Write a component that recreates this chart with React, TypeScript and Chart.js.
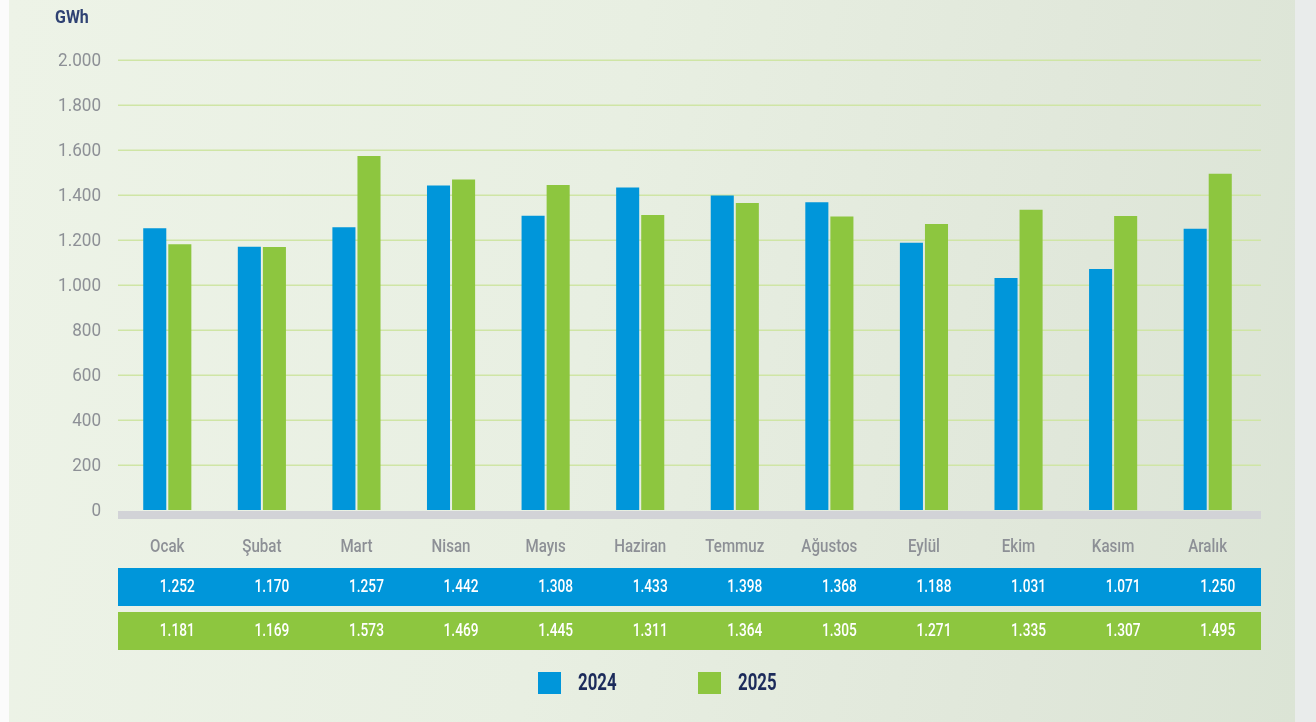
import React, { useEffect, useRef } from "react";
import { Chart, registerables } from "chart.js";

Chart.register(...registerables);

const months = ["Ocak", "Şubat", "Mart", "Nisan", "Mayıs", "Haziran", "Temmuz", "Ağustos", "Eylül", "Ekim", "Kasım", "Aralık"];
const series2024 = [1252, 1170, 1257, 1442, 1308, 1433, 1398, 1368, 1188, 1031, 1071, 1250];
const series2025 = [1181, 1169, 1573, 1469, 1445, 1311, 1364, 1305, 1271, 1335, 1307, 1495];
const seriesLabels = ["2024", "2025"];
const yMax = 2000;
const yStep = 200;
const unitLabel = "GWh";

const BLUE = "#0096da";
const GREEN = "#8dc63f";
const FONT = "Roboto, 'Noto Sans', sans-serif";

const fmt = (v: number) => {
  const s = Math.round(v).toString();
  return s.length > 3 ? s.slice(0, s.length - 3) + "." + s.slice(-3) : s;
};

// draws text with a horizontal squeeze to imitate a condensed face
function squeezed(ctx: any, text: string, x: number, y: number, align: "left" | "center" | "right", sx: number) {
  ctx.save();
  ctx.translate(x, y);
  ctx.scale(sx, 1);
  ctx.textAlign = align;
  ctx.textBaseline = "middle";
  ctx.fillText(text, 0, 0);
  ctx.restore();
}

const extrasPlugin = {
  id: "extras",
  beforeDatasetsDraw(chart: any) {
    const { ctx, chartArea, scales } = chart;
    const y = scales.y;
    ctx.save();
    ctx.strokeStyle = "#cfe5a5";
    ctx.lineWidth = 1.6;
    for (let v = yStep; v <= yMax; v += yStep) {
      const py = Math.round(y.getPixelForValue(v)) + 0.25;
      ctx.beginPath();
      ctx.moveTo(chartArea.left - 2, py);
      ctx.lineTo(chartArea.right + 6, py);
      ctx.stroke();
    }
    ctx.restore();
  },
  afterDatasetsDraw(chart: any) {
    const { ctx, chartArea, scales } = chart;
    const x = scales.x;
    const y = scales.y;
    const y0 = y.getPixelForValue(0);
    const left = chartArea.left - 2;
    const width = chartArea.right + 6 - left;
    ctx.save();
    // baseline band
    ctx.fillStyle = "#d2d3d7";
    ctx.fillRect(left, y0 + 1, width, 8);

    // y tick labels
    ctx.fillStyle = "#8d9096";
    ctx.font = `400 19px ${FONT}`;
    for (let v = 0; v <= yMax; v += yStep) {
      squeezed(ctx, fmt(v), chartArea.left - 19, y.getPixelForValue(v) + 1, "right", 0.9);
    }
    // x category labels
    ctx.font = `500 18px ${FONT}`;
    months.forEach((m, i) => {
      squeezed(ctx, m, x.getPixelForValue(i), y0 + 37, "center", 0.84);
    });

    // table rows
    const rows = [
      { vals: series2024, color: BLUE, top: y0 + 58 },
      { vals: series2025, color: GREEN, top: y0 + 102 },
    ];
    rows.forEach((r) => {
      ctx.fillStyle = r.color;
      ctx.fillRect(left, r.top, width, 38);
      ctx.fillStyle = "#ffffff";
      ctx.font = `500 18px ${FONT}`;
      r.vals.forEach((v, i) => {
        squeezed(ctx, fmt(v), x.getPixelForValue(i) + 10, r.top + 19.5, "center", 0.76);
      });
    });

    // unit label
    ctx.font = `bold 19px ${FONT}`;
    ctx.fillStyle = "#2f4273";
    squeezed(ctx, unitLabel, 55, 18, "left", 0.84);

    // legend
    const legendY = y0 + 173;
    const items = [
      { label: seriesLabels[0], color: BLUE, x: left + 420 },
      { label: seriesLabels[1], color: GREEN, x: left + 580 },
    ];
    ctx.font = `bold 24px ${FONT}`;
    items.forEach((it) => {
      ctx.fillStyle = it.color;
      ctx.fillRect(it.x, legendY - 11, 23, 22);
      ctx.fillStyle = "#1c2b5b";
      squeezed(ctx, it.label, it.x + 40, legendY + 1, "left", 0.7);
    });
    ctx.restore();
  },
};

export default function App() {
  const ref = useRef<HTMLCanvasElement | null>(null);
  useEffect(() => {
    if (!ref.current) return;
    const chart = new Chart(ref.current, {
      type: "bar",
      data: {
        labels: months,
        datasets: [
          { label: seriesLabels[0], data: series2024, backgroundColor: BLUE, categoryPercentage: 0.53, barPercentage: 0.92 },
          { label: seriesLabels[1], data: series2025, backgroundColor: GREEN, categoryPercentage: 0.53, barPercentage: 0.92 },
        ],
      },
      options: {
        animation: false,
        responsive: false,
        layout: { padding: { top: 60, right: 61, bottom: 0, left: 0 } },
        plugins: { legend: { display: false }, tooltip: { enabled: false } },
        scales: {
          x: {
            grid: { display: false, drawTicks: false },
            border: { display: false },
            ticks: { display: false },
            afterFit: (s: any) => { s.height = 212; },
          },
          y: {
            min: 0,
            max: yMax,
            grid: { display: false, drawTicks: false },
            border: { display: false },
            ticks: { display: false, stepSize: yStep },
            afterFit: (s: any) => { s.width = 120; },
          },
        },
      },
      plugins: [extrasPlugin],
    });
    return () => chart.destroy();
  }, []);

  return (
    <div style={{ position: "fixed", left: 0, top: 0, width: 1316, height: 722, background: "#e9eceb", overflow: "hidden" }}>
      <div style={{ position: "absolute", left: 0, top: 0, width: 9, height: 722, background: "#fbfbfb" }} />
      <div
        style={{
          position: "absolute",
          left: 9,
          top: 0,
          width: 1286,
          height: 722,
          background: "linear-gradient(100deg, #edf3e7 0%, #e8efe2 45%, #e0e7da 80%, #dbe4d5 100%)",
        }}
      />
      <canvas ref={ref} width={1316} height={722} style={{ position: "absolute", left: 0, top: 0, width: 1316, height: 722 }} />
    </div>
  );
}
